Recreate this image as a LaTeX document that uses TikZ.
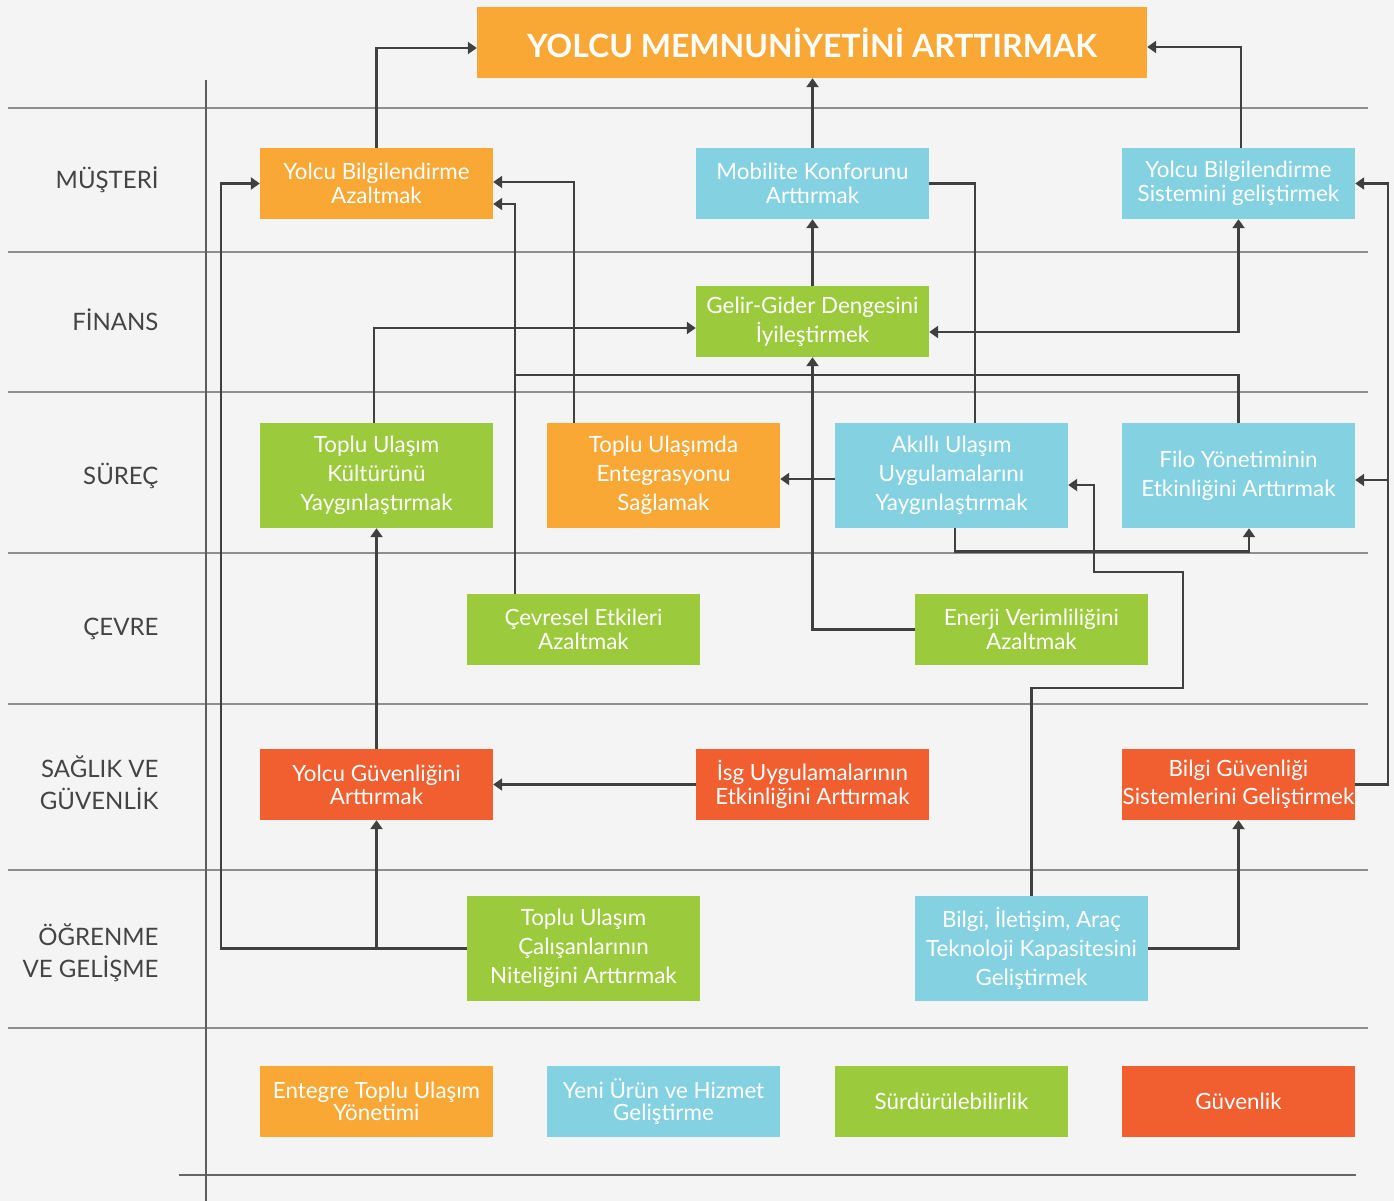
\documentclass[tikz,border=0pt]{standalone}
\usepackage{fontspec}
\setmainfont{Lato}
\usetikzlibrary{arrows.meta,calc}
\definecolor{bgc}{HTML}{F4F4F4}
\definecolor{orng}{HTML}{F9A836}
\definecolor{cyn}{HTML}{84D1E1}
\definecolor{grn}{HTML}{9BCA3C}
\definecolor{rd}{HTML}{F15E2F}
\definecolor{conn}{HTML}{404040}
\definecolor{sep}{HTML}{8E8E8E}
\definecolor{lbl}{HTML}{444444}
\tikzset{
  box/.style={inner sep=0pt, minimum width=233pt, text=white, align=center, font=\fontsize{22.4}{24}\selectfont},
  short/.style={box, minimum height=71pt},
  tall/.style={box, minimum height=105pt, font=\fontsize{22.4}{29}\selectfont},
  oc/.style={fill=orng}, cc/.style={fill=cyn}, gc/.style={fill=grn}, rc/.style={fill=rd},
  lane/.style={anchor=east, align=right, text=lbl, font=\fontsize{24}{32}\selectfont},
  sepline/.style={draw=sep, line width=1.8pt},
  wire/.style={draw=conn, line width=2.6pt},
  arr/.style={wire, -{Triangle[width=12pt,length=9pt]}},
  arrb/.style={wire, {Triangle[width=12pt,length=9pt]}-{Triangle[width=12pt,length=9pt]}}
}
\begin{document}
\begin{tikzpicture}[x=1pt,y=-1pt]
\fill[bgc] (0,0) rectangle (1394,1201);
\useasboundingbox (0,0) rectangle (1394,1201);
% lane separators
\foreach \yy in {108,252,392,553,704,870,1028} \draw[sepline] (8,\yy) -- (1368,\yy);
\draw[draw=conn!80, line width=1.5pt] (179,1175) -- (1356,1175);
\draw[draw=conn!85, line width=1.5pt] (206,80) -- (206,1201);
% lane labels
\node[lane] (l1) at (162,180) {MÜŞTERİ};
\node[lane] (l2) at (162,320) {FİNANS};
\node[lane] (l3) at (162,476) {SÜREÇ};
\node[lane] (l4) at (162,629) {ÇEVRE};
\node[lane] (l5) at (162,783) {SAĞLIK VE\\GÜVENLİK};
\node[lane] (l6) at (162,953) {ÖĞRENME\\VE GELİŞME};
% boxes
\node[short, oc, minimum width=670pt, font=\bfseries\fontsize{32}{34}\selectfont] (title) at (812,42.5) {YOLCU MEMNUNİYETİNİ ARTTIRMAK};
\node[short, oc] (yb) at (376.5,183.5) {Yolcu Bilgilendirme\\Azaltmak};
\node[short, cc] (mk) at (812.5,183.5) {Mobilite Konforunu\\Arttırmak};
\node[short, cc] (ybs) at (1238.5,183.5) {Yolcu Bilgilendirme\\Sistemini geliştirmek};
\node[short, gc, font=\fontsize{22.4}{29}\selectfont] (gg) at (812.5,321.5) {Gelir-Gider Dengesini\\İyileştirmek};
\node[tall, gc] (tuk) at (376.5,475.5) {Toplu Ulaşım\\Kültürünü\\Yaygınlaştırmak};
\node[tall, oc] (tue) at (663.5,475.5) {Toplu Ulaşımda\\Entegrasyonu\\Sağlamak};
\node[tall, cc] (aku) at (951.5,475.5) {Akıllı Ulaşım\\Uygulamalarını\\Yaygınlaştırmak};
\node[tall, cc] (filo) at (1238.5,475.5) {Filo Yönetiminin\\Etkinliğini Arttırmak};
\node[short, gc] (cev) at (583.5,629.5) {Çevresel Etkileri\\Azaltmak};
\node[short, gc] (ener) at (1031.5,629.5) {Enerji Verimliliğini\\Azaltmak};
\node[short, rc, font=\fontsize{22.4}{23}\selectfont] (yg) at (376.5,784.5) {Yolcu Güvenliğini\\Arttırmak};
\node[short, rc] (isg) at (812.5,784.5) {İsg Uygulamalarının\\Etkinliğini Arttırmak};
\node[short, rc, font=\fontsize{22.4}{28}\selectfont] (bg) at (1238.5,784.5) {Bilgi Güvenliği\\Sistemlerini Geliştirmek};
\node[tall, gc] (tuc) at (583.5,948.5) {Toplu Ulaşım\\Çalışanlarının\\Niteliğini Arttırmak};
\node[tall, cc] (bit) at (1031.5,948.5) {Bilgi, İletişim, Araç\\Teknoloji Kapasitesini\\Geliştirmek};
% legend
\node[short, oc, font=\fontsize{22.4}{22}\selectfont] (lg1) at (376.5,1101.5) {Entegre Toplu Ulaşım\\Yönetimi};
\node[short, cc, font=\fontsize{22.4}{22}\selectfont] (lg2) at (663.5,1101.5) {Yeni Ürün ve Hizmet\\Geliştirme};
\node[short, gc] (lg3) at (951.5,1101.5) {Sürdürülebilirlik};
\node[short, rc] (lg4) at (1238.5,1101.5) {Güvenlik};
% connectors
\draw[arr] (yb.north) |- ($(title.west)+(0,5.5)$);
\draw[arr] (mk.north) -- (mk.north |- title.south);
\draw[arr] ($(ybs.north)+(2.5,0)$) |- ($(title.east)+(0,4.5)$);
\draw[arr] (gg.north) -- (mk.south);
\draw[wire] (mk.east) -| ($(aku.north)+(23.5,0)$);
\draw[arrb] (ybs.south) |- ($(gg.east)+(0,10.5)$);
\draw[arr] ($(tuk.north)+(-2.5,0)$) |- ($(gg.west)+(0,6.5)$);
\draw[arr] (ener.west) -| (gg.south);
\draw[arr] ($(aku.west)+(0,3.5)$) -- ($(tue.east)+(0,3.5)$);
\draw[arr] ($(aku.south)+(3.5,0)$) -- ++(0,23) -| ($(filo.south)+(10.5,0)$);
\draw[arr] (bit.north) -- (1031.5,688) -- (1183,688) -- (1183,572) -- (1094,572) -- (1094,485) -- ($(aku.east)+(0,9.5)$);
\draw[arr] (bit.east) -| (bg.south);
\coordinate (jr) at (1388,480);
\draw[arr] (bg.east) -- (1388,784.5) |- (ybs.east);
\draw[arr] (jr) -- ($(filo.east)+(0,4.5)$);
\draw[arr] (tuc.west) -- (221,948.5) |- (yb.west);
\coordinate (jt) at (yg.south |- tuc.west);
\draw[arr] (jt) -- (yg.south);
\draw[arr] (yg.north) -- (tuk.south);
\draw[arr] (isg.west) -- (yg.east);
\draw[arr] ($(tue.north)+(-89.5,0)$) |- ($(yb.east)+(0,-1.5)$);
\draw[arr] ($(cev.north)+(-68.5,0)$) |- ($(yb.east)+(0,20.5)$);
\draw[wire] (filo.north) |- (515,375);
\end{tikzpicture}
\end{document}
